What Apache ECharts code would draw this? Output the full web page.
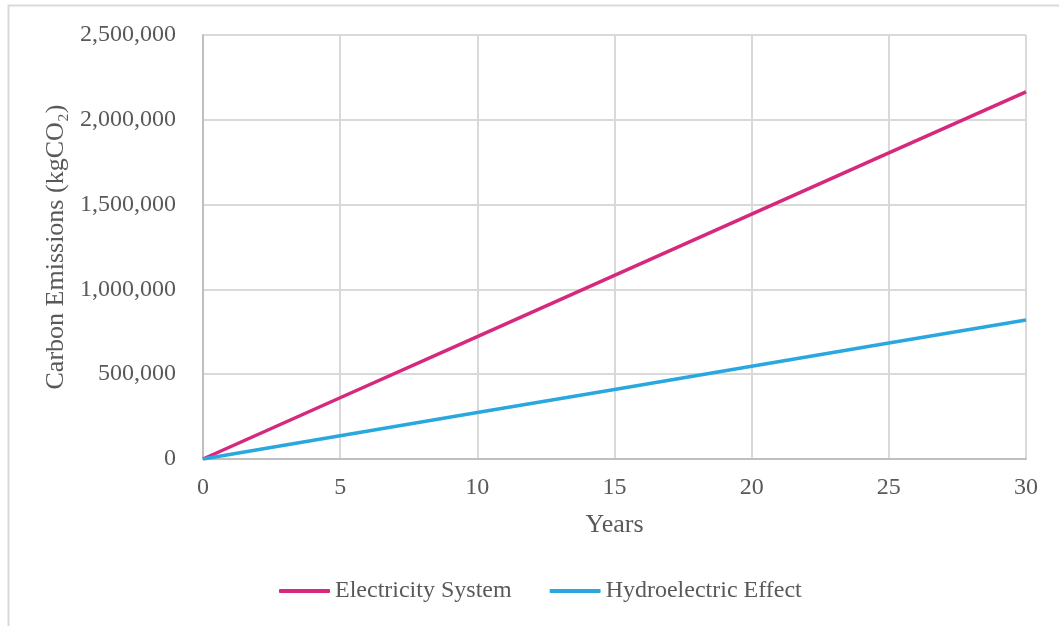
<!DOCTYPE html>
<html><head><meta charset="utf-8">
<script src="https://cdn.jsdelivr.net/npm/echarts@6/dist/echarts.min.js"></script>
<style>html,body{margin:0;padding:0;background:#fff}#c{width:1059px;height:626px}</style>
</head><body><div id="c"></div>
<script>
const years = [0, 5, 10, 15, 20, 25, 30];
const electricitySystem = [0, 361000, 722000, 1083000, 1444000, 1805000, 2165000];
const hydroelectricEffect = [0, 137000, 274000, 410000, 547000, 684000, 820000];
const seriesNames = ['Electricity System', 'Hydroelectric Effect'];
const xTitle = 'Years';
const yTitle = 'Carbon Emissions (kgCO\u2082)';

const font = '"Liberation Serif", "Times New Roman", serif';
const txt = '#595959';
const chart = echarts.init(document.getElementById('c'), null, {renderer: 'canvas'});
chart.setOption({
  backgroundColor: '#fff',
  animation: false,
  graphic: [{type: 'rect', shape: {x: 8.5, y: 5.5, width: 1100, height: 700}, style: {fill: 'none', stroke: '#d9d9d9', lineWidth: 2}, silent: true}],
  grid: {left: 203, right: 33, top: 35, bottom: 167},
  legend: {
    bottom: 18, left: 274, itemWidth: 51, itemHeight: 4, itemGap: 38, icon: 'roundRect',
    textStyle: {fontFamily: font, fontSize: 24, color: txt},
    data: seriesNames
  },
  xAxis: {
    type: 'value', min: 0, max: 30, interval: 5,
    name: xTitle, nameLocation: 'middle', nameGap: 53,
    nameTextStyle: {fontFamily: font, fontSize: 26, color: txt},
    axisLine: {show: true, lineStyle: {color: '#bfbfbf', width: 2}},
    axisTick: {show: false},
    axisLabel: {fontFamily: font, fontSize: 24, color: txt, margin: 17},
    splitLine: {show: true, lineStyle: {color: '#d9d9d9', width: 2}}
  },
  yAxis: {
    type: 'value', min: 0, max: 2500000, interval: 500000,
    name: yTitle, nameLocation: 'middle', nameGap: 129, nameRotate: 90,
    nameTextStyle: {fontFamily: font, fontSize: 26, color: txt},
    axisLine: {show: true, lineStyle: {color: '#bfbfbf', width: 2}},
    axisTick: {show: false},
    axisLabel: {fontFamily: font, fontSize: 24, color: txt, margin: 27,
      formatter: v => v.toLocaleString('en-US')},
    splitLine: {show: true, lineStyle: {color: '#d9d9d9', width: 2}}
  },
  series: [
    {name: seriesNames[0], type: 'line', data: years.map((y, i) => [y, electricitySystem[i]]),
     showSymbol: false, symbol: 'none', lineStyle: {width: 3.5, color: '#D6297E'}, itemStyle: {color: '#D6297E'}},
    {name: seriesNames[1], type: 'line', data: years.map((y, i) => [y, hydroelectricEffect[i]]),
     showSymbol: false, symbol: 'none', lineStyle: {width: 3.5, color: '#29A8E0'}, itemStyle: {color: '#29A8E0'}}
  ]
});
</script></body></html>
